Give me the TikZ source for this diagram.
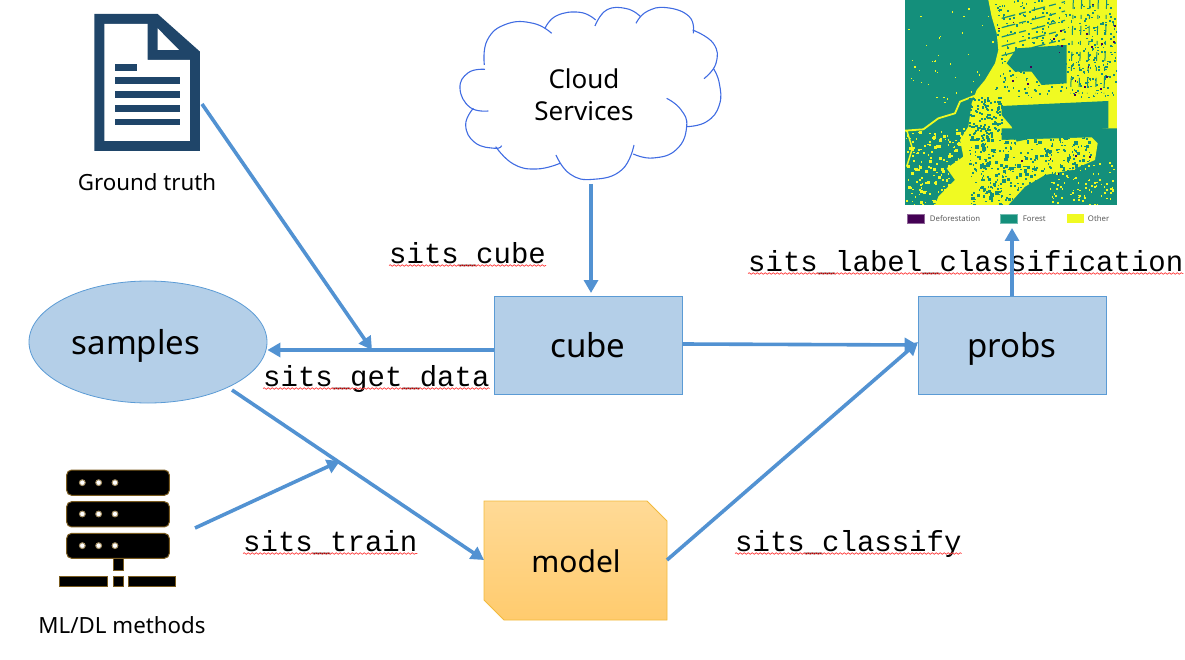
\documentclass[tikz,border=0pt]{standalone}
\usepackage{fontspec}
\setmainfont{Noto Sans}
\newfontfamily\codefont{Liberation Mono}
\usetikzlibrary{arrows.meta,decorations.pathmorphing,shapes.geometric}

\definecolor{flow}{HTML}{5292D2}
\definecolor{boxfill}{HTML}{B4CFE8}
\definecolor{boxline}{HTML}{5B9BD5}
\definecolor{docblue}{HTML}{1F4569}
\definecolor{servline}{HTML}{7A5C20}
\definecolor{forest}{HTML}{148F7B}
\definecolor{other}{HTML}{F0FA22}
\definecolor{defor}{HTML}{440154}
\definecolor{modeltop}{HTML}{FFDA96}
\definecolor{modelbot}{HTML}{FFCB6E}
\definecolor{modelline}{HTML}{F2BA3C}

\tikzset{
	flowline/.style={draw=flow, line width=3.6pt, -{Triangle[length=13pt,width=14pt]}},
	datanode/.style={draw=boxline, fill=boxfill, line width=.8pt, minimum width=188pt, minimum height=98pt,
		text height=30pt, text depth=6pt, font=\fontsize{33}{40}\selectfont},
	funlabel/.style={inner sep=0pt, anchor=base west, font=\codefont\fontsize{29}{34}\selectfont},
	iconlabel/.style={inner sep=0pt, font=\fontsize{22.3}{28}\selectfont},
	squiggle/.style={draw=red!75!white, line width=.7pt, decorate,
		decoration={snake, segment length=4pt, amplitude=.8pt}},
	cloudarc/.style={draw=boxline!70!blue, line width=1.1pt},
	servpart/.style={draw=servline, fill=black, line width=1pt},
	legendtext/.style={inner sep=0pt, anchor=west, text=black!65, font=\fontsize{7.8}{10}\selectfont}
}

% scattered pixels of the map
\newcommand{\specks}[7]{
	\foreach \i in {1,...,#2} {
		\pgfmathsetmacro{\px}{#3+rnd*(#4-#3)}
		\pgfmathsetmacro{\py}{#5+rnd*(#6-#5)}
		\fill[#1] (\px,\py) rectangle ++(#7,#7);
	}
}

\begin{document}
\begin{tikzpicture}[x=1pt,y=-1pt]
	\useasboundingbox (0,0) rectangle (1185,660);

	% map
	\begin{scope}[shift={(905,0)}, x=.3333pt, y=-.3333pt]
		\pgfmathsetseed{4711}
		\clip (0,0) rectangle (636,615);
		\fill[forest] (0,0) rectangle (636,615);
		\fill[other] (250,0) -- (636,0) -- (636,385) -- (290,385) -- (290,420) -- (560,412) -- (578,430) -- (570,480) -- (500,510)
			-- (420,525) -- (360,560) -- (310,615) -- (90,615) -- (100,590) -- (150,540) -- (125,505) -- (175,470) -- (165,420)
			-- (190,380) -- (200,310) -- (215,270) -- (240,240) -- (270,190) -- (280,150) -- (275,100) -- (260,50) -- cycle;
		\draw[other, line width=1.8pt, line join=round] (0,392) -- (55,388) -- (100,355) -- (150,340) -- (165,305) -- (215,285) -- (245,240);
		\draw[other, line width=1.5pt, line join=round] (5,390) -- (22,445) -- (5,500);
		\foreach \y in {30,58,...,150} {
			\draw[forest, line width=1.2pt, dash pattern=on 14pt off 4pt on 7pt off 6pt] (290,\y+25) -- (480,\y-25);
		}
		\foreach \x in {505,530,...,625} {
			\draw[forest, line width=1pt, dash pattern=on 9pt off 6pt on 4pt off 7pt] (\x,0) -- (\x-8,280);
		}
		\specks{forest}{380}{270}{636}{0}{290}{5}
		\specks{forest}{90}{190}{570}{400}{615}{10}
		\specks{forest}{360}{190}{570}{400}{615}{5}
		\specks{forest}{140}{190}{290}{290}{420}{6}
		\specks{other}{40}{0}{270}{20}{310}{4}
		\specks{other}{40}{0}{180}{390}{615}{9}
		\specks{other}{150}{0}{200}{380}{615}{5}
		\specks{other}{90}{430}{636}{480}{615}{5}
		\fill[forest] (335,145) -- (485,135) -- (485,250) -- (410,255) -- (380,215) -- (330,215) -- (305,190) -- cycle;
		\fill[forest] (290,318) -- (610,303) -- (610,385) -- (470,395) -- (335,425) -- (320,380) -- (290,345) -- cycle;
		\fill[other] (335,230) rectangle (360,262) (365,242) rectangle (390,262);
		\fill[other] (612,300) rectangle (636,380);
		\specks{defor}{22}{270}{636}{0}{290}{5}
		\specks{defor}{5}{300}{560}{420}{580}{5}
	\end{scope}

	% legend of the map
	\node[fill=defor, draw=defor!60!white, inner sep=0pt, minimum width=17pt, minimum height=9pt] (deforkey) at (916,219) {};
	\node[legendtext, right=5pt] (deforname) at (deforkey.east) {Deforestation};
	\node[fill=forest, draw=forest!60!white, inner sep=0pt, minimum width=17pt, minimum height=9pt] (forestkey) at (1009,219) {};
	\node[legendtext, right=5pt] (forestname) at (forestkey.east) {Forest};
	\node[fill=other, inner sep=0pt, minimum width=17pt, minimum height=9pt] (otherkey) at (1075,219) {};
	\node[legendtext, right=4pt] (othername) at (otherkey.east) {Other};

	% ground truth icon
	\begin{scope}[shift={(60,0)}, x=.3333pt, y=-.3333pt]
		\fill[docblue] (103,42) -- (293,42) -- (420,155) -- (420,453) -- (103,453) -- cycle;
		\fill[white] (133,72) -- (263,72) -- (263,180) -- (390,180) -- (390,423) -- (133,423) -- cycle;
		\fill[white] (293,85) -- (357,150) -- (293,150) -- cycle;
		\fill[docblue] (165,191) rectangle (232,212);
		\foreach \y in {232,273,315,356} {
			\fill[docblue] (165,\y) rectangle (360,\y+20);
		}
	\end{scope}

	% server icon
	\begin{scope}[shift={(40,450)}, x=.3333pt, y=-.3333pt]
		\foreach \y/\z in {60/136,155/231,250/325} {
			\draw[servpart, rounded corners=5pt] (80,\y) rectangle (388,\z);
		}
		\foreach \y in {98,192,287} {
			\foreach \x in {127,176,225} {
				\fill[white, draw=servline!70!white, line width=1pt] (\x,\y) circle (2.9pt);
			}
		}
		\draw[servpart] (220,325) rectangle (250,363);
		\draw[servpart] (60,380) rectangle (202,410);
		\draw[servpart] (220,380) rectangle (250,410);
		\draw[servpart] (267,380) rectangle (408,410);
	\end{scope}

	% cloud
	\begin{scope}[shift={(450,0)}, x=.3333pt, y=-.3333pt]
		\draw[cloudarc] plot[smooth, tension=.8] coordinates {(105,208) (55,218) (30,265) (60,322) (115,333)};
		\draw[cloudarc] plot[smooth, tension=.8] coordinates {(70,325) (47,375) (75,428) (135,445) (155,437)};
		\draw[cloudarc] plot[smooth, tension=.8] coordinates {(137,440) (190,492) (260,507) (330,490)};
		\draw[cloudarc] plot[smooth, tension=.8] coordinates {(318,465) (360,522) (430,538) (515,510) (552,435)};
		\draw[cloudarc] plot[smooth, tension=.8] coordinates {(550,462) (610,474) (680,448) (710,380) (692,328) (650,295)};
		\draw[cloudarc] plot[smooth, tension=.8] coordinates {(710,380) (770,365) (808,315) (808,250) (790,205)};
		\draw[cloudarc] plot[smooth, tension=.8] coordinates {(762,236) (798,190) (790,130) (728,90)};
		\draw[cloudarc] plot[smooth, tension=.8] coordinates {(730,100) (718,50) (650,23) (590,35) (558,70)};
		\draw[cloudarc] plot[smooth, tension=.8] coordinates {(572,50) (530,26) (470,30) (435,78)};
		\draw[cloudarc] plot[smooth, tension=.8] coordinates {(437,60) (390,37) (320,47) (285,85)};
		\draw[cloudarc] plot[smooth, tension=.8] coordinates {(305,100) (250,70) (170,72) (112,120) (103,195)};
	\end{scope}

	\node[align=center, inner sep=0pt, font=\fontsize{26}{32}\selectfont] (cloud) at (584,95) {Cloud\\Services};
	\node[iconlabel] (truth) at (147,182) {Ground truth};
	\node[iconlabel] (methods) at (122,625) {ML/DL methods};

	\node[ellipse, datanode, minimum width=238pt, minimum height=122pt, inner sep=0pt] (samples) at (148,342) {samples\hspace*{24pt}};
	\node[datanode] (cube) at (588,345) {cube};
	\node[datanode] (probs) at (1012,345) {probs};

	\path[draw=modelline, line width=.8pt, top color=modeltop, bottom color=modelbot]
		(484,501) -- (647,501) -- (667,521) -- (667,620) -- (504,620) -- (484,600) -- cycle;
	\node[inner sep=0pt, font=\fontsize{30}{38}\selectfont] (model) at (576,561) {model};

	\node[funlabel] (cubelab) at (389,263) {sits\_cube};
	\node[funlabel] (datalab) at (263,386) {sits\_get\_data};
	\node[funlabel] (trainlab) at (243,551) {sits\_train};
	\node[funlabel] (classlab) at (735,551) {sits\_classify};
	\node[funlabel] (problab) at (748,271) {sits\_label\_classification};

	\foreach \lab in {cubelab,datalab,trainlab,classlab,problab} {
		\draw[squiggle] ([yshift=-2.5pt]\lab.base west) -- ([yshift=-2.5pt]\lab.base east);
	}

	\coordinate (truthend) at (202,104);
	\coordinate (joindata) at (372,350);
	\coordinate (methodsend) at (195,528);
	\coordinate (jointrain) at (340,461);
	\coordinate (samplesend) at (232,390);
	\coordinate (modelin) at (484,560);
	\coordinate (modelout) at (667,560);
	\coordinate (probsin) at (918,342);
	\coordinate (cloudout) at (591,184);
	\coordinate (cubein) at (591,293);
	\coordinate (mapkey) at (1012,228);

	\draw[flowline] (cube.west |- joindata) -- (samples.east |- joindata);
	\draw[flowline] (truthend) -- (joindata);
	\draw[flowline] (cloudout) -- (cubein);
	\draw[flowline] (cube.east |- 0,344) -- (probs.west);
	\draw[flowline] (probs.north) -- (mapkey);
	\draw[flowline] (samplesend) -- (modelin);
	\draw[flowline] (methodsend) -- (jointrain);
	\draw[flowline] (modelout) -- (probsin);
\end{tikzpicture}
\end{document}
